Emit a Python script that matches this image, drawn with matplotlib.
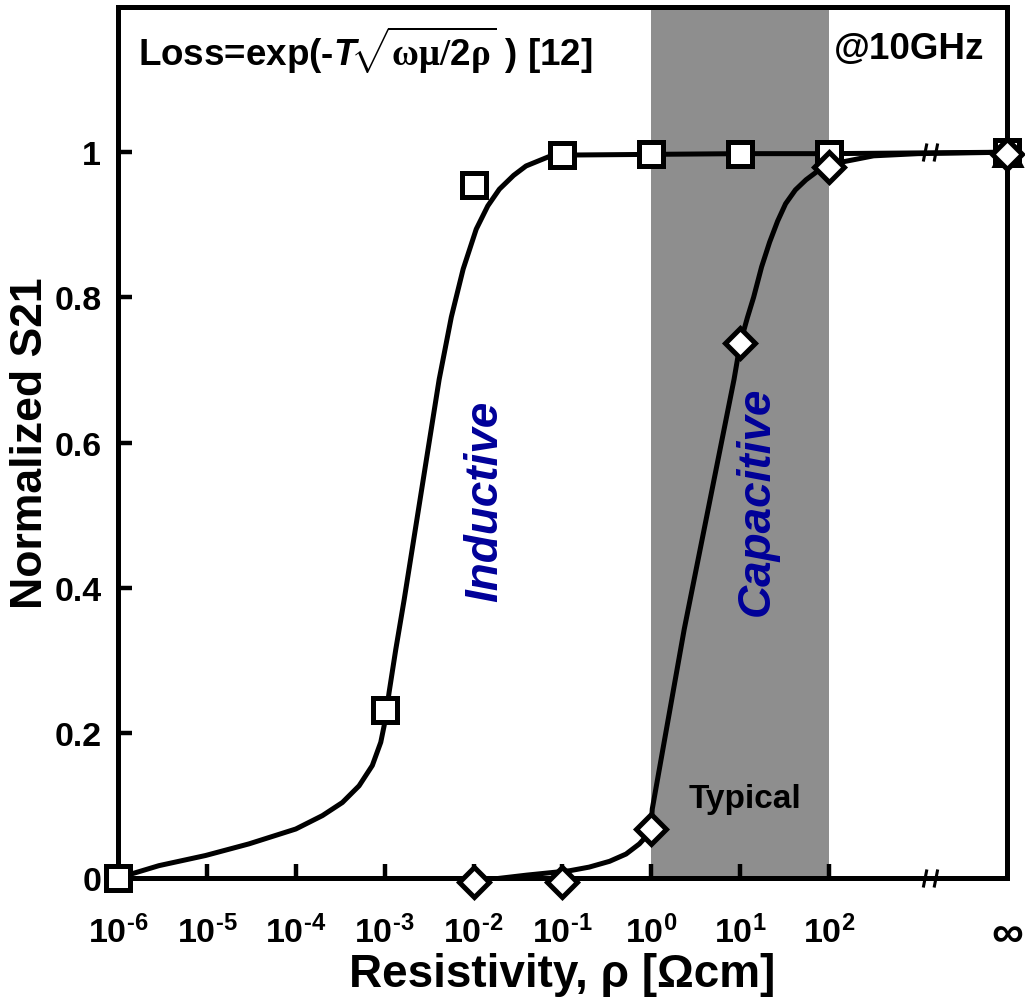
import numpy as np
import matplotlib
matplotlib.use('Agg')
import matplotlib.pyplot as plt
from matplotlib.path import Path

plt.rcParams['font.family'] = ['Liberation Sans', 'DejaVu Sans']
plt.rcParams['font.weight'] = 'bold'
plt.rcParams['mathtext.fontset'] = 'custom'
plt.rcParams['mathtext.rm'] = 'Liberation Sans:bold'
plt.rcParams['mathtext.bf'] = 'Liberation Sans:bold'
plt.rcParams['mathtext.it'] = 'Liberation Sans:bold:italic'
plt.rcParams['mathtext.cal'] = 'Liberation Serif'

# measured points (1e4 stands for the "infinity" position)
rho_ind = [1e-6, 1e-3, 1e-2, 1e-1, 1e0, 1e1, 1e2, 1e4]
s21_ind = [0.0, 0.231, 0.955, 0.996, 0.997, 0.997, 0.998, 1.0]
rho_cap = [1e-2, 1e-1, 1e0, 1e1, 1e2, 1e4]
s21_cap = [-0.005, -0.005, 0.067, 0.737, 0.979, 0.998]
rho_tri = [1e4]
s21_tri = [1.0]

# smooth guide curves (log10 rho, S21)
ind_curve_logx = [-6.0, -5.54, -5.015, -4.527, -4.0, -3.70, -3.476, -3.288, -3.139,
                  -3.044, -2.999, -2.95, -2.875, -2.78, -2.64, -2.5, -2.387, -2.25,
                  -2.117, -1.97, -1.84, -1.71, -1.55, -1.41, -1.15, -1.0, 0.0, 1.0,
                  2.0, 3.0, 4.0]
ind_curve_y = [0.0, 0.017, 0.031, 0.047, 0.0675, 0.086, 0.104, 0.127, 0.155,
               0.187, 0.214, 0.256, 0.315, 0.384, 0.492, 0.60, 0.687, 0.773,
               0.839, 0.894, 0.926, 0.949, 0.968, 0.981, 0.994, 0.996, 0.997, 0.998,
               0.998, 0.999, 1.0]
cap_curve_logx = [-2.0, -1.749, -1.4, -0.999, -0.92, -0.70, -0.47, -0.285, -0.135,
                  -0.06, -0.02, 0.0, 0.01, 0.37, 0.93, 1.0, 1.08, 1.15, 1.24, 1.33,
                  1.42, 1.51, 1.62, 1.74, 1.86, 2.0, 2.5, 3.0, 4.0]
cap_curve_y = [-0.004, -0.001, 0.004, 0.009, 0.010, 0.015, 0.023, 0.033, 0.047,
               0.057, 0.064, 0.075, 0.095, 0.343, 0.687, 0.737, 0.772, 0.80, 0.842,
               0.876, 0.905, 0.929, 0.948, 0.962, 0.973, 0.983, 0.995, 0.998, 1.0]

xticks = [1e-6, 1e-5, 1e-4, 1e-3, 1e-2, 1e-1, 1e0, 1e1, 1e2, 1e4]
xlabels = [r'$10^{\text{-}6}$', r'$10^{\text{-}5}$', r'$10^{\text{-}4}$', r'$10^{\text{-}3}$',
           r'$10^{\text{-}2}$', r'$10^{\text{-}1}$', r'$10^{0}$', r'$10^{1}$', r'$10^{2}$',
           '\u221e']
yticks = [0, 0.2, 0.4, 0.6, 0.8, 1.0]
ylabels = ['0', '0.2', '0.4', '0.6', '0.8', '1']
typical_band = (1e0, 1e2)
break_x = 10 ** 3.13

fig = plt.figure(figsize=(10.25, 10.04), dpi=100)
ax = fig.add_axes([0.1151, 0.1245, 0.8673, 0.8675])
ax.set_xscale('log')
ax.set_xlim(1e-6, 1e4)
ax.set_ylim(0, 1.2)

ax.axvspan(*typical_band, color='#8e8e8e', lw=0, zorder=0)

lw = 3.6
ax.plot(10 ** np.array(ind_curve_logx), ind_curve_y, color='black', lw=lw, zorder=2,
        solid_capstyle='round', solid_joinstyle='round')
ax.plot(10 ** np.array(cap_curve_logx), cap_curve_y, color='black', lw=lw, zorder=2,
        solid_capstyle='round', solid_joinstyle='round')

# axis break marks
brk = Path([(-0.4, -0.5), (-0.2, 0.5), (0.2, -0.5), (0.4, 0.5)],
           [Path.MOVETO, Path.LINETO, Path.MOVETO, Path.LINETO])
ax.plot([break_x, break_x], [1.0, 0.0], ls='none', marker=brk, ms=13, mew=2.2,
        mec='black', clip_on=False, zorder=4)

ax.plot(rho_ind, s21_ind, ls='none', marker='s', ms=17, mfc='white', mec='black',
        mew=3.6, clip_on=False, zorder=3)
ax.plot(rho_tri, s21_tri, ls='none', marker='^', ms=18, mfc='black', mec='black',
        mew=3.6, clip_on=False, zorder=4)
ax.plot(rho_cap, s21_cap, ls='none', marker='D', ms=15, mfc='white', mec='black',
        mew=3.6, clip_on=False, zorder=5)

ax.set_xticks(xticks)
ax.set_xticklabels(xlabels)
ax.minorticks_off()
ax.set_yticks(yticks)
ax.set_yticklabels(ylabels)
ax.tick_params(axis='both', direction='in', length=10, width=3.2, labelsize=24.5)
ax.tick_params(axis='x', pad=26)
ax.tick_params(axis='y', pad=12)
ax.xaxis.get_major_ticks()[-1].tick1line.set_visible(False)
ax.get_xticklabels()[-1].set_fontsize(32)
for s in ax.spines.values():
    s.set_linewidth(3.6)

ax.set_xlabel('Resistivity, \u03c1 [\u03a9cm]', fontsize=33, fontweight='bold', labelpad=-2)
ax.set_ylabel('Normalized S21', fontsize=32, fontweight='bold', labelpad=2)

ax.text(0.022, 0.952, r'Loss=exp(-$T\!\sqrt{\mathcal{\omega\mu/}2\mathcal{\rho}}$ ) [12]',
        transform=ax.transAxes, fontsize=26.5, fontweight='bold', va='center', ha='left')
ax.text(0.975, 0.952, '@10GHz', transform=ax.transAxes, fontsize=26.5, fontweight='bold',
        va='center', ha='right')
ax.text(10 ** 1.05, 0.11, 'Typical', fontsize=24, fontweight='bold', ha='center',
        va='center')
ax.text(10 ** -1.87, 0.52, 'Inductive', fontsize=33, fontweight='bold', style='italic',
        color='#000099', rotation=90, ha='center', va='center')
ax.text(10 ** 1.19, 0.52, 'Capacitive', fontsize=33, fontweight='bold', style='italic',
        color='#000099', rotation=90, ha='center', va='center')

fig.savefig('out.png', dpi=100)
